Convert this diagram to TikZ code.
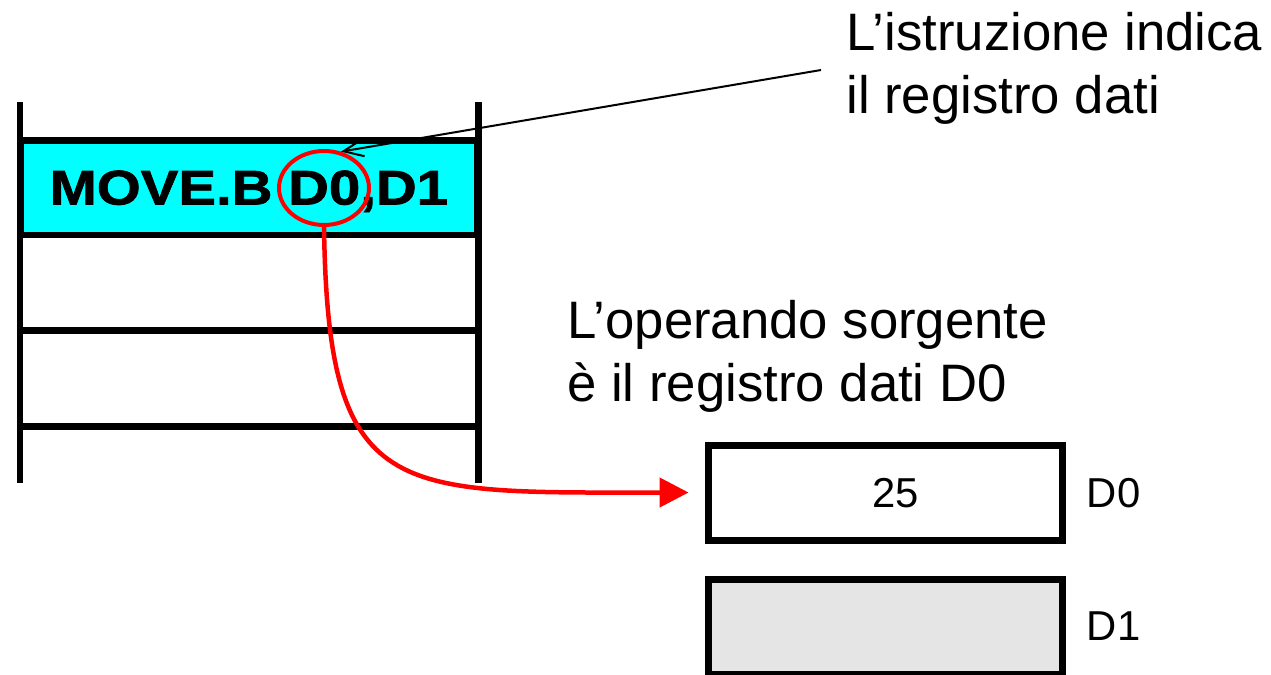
\documentclass[tikz,border=0pt]{standalone}
\usepackage{fontspec}
\setmainfont{Liberation Sans}
\newfontfamily\widefont[FakeStretch=1.16,FakeBold=1.5]{Liberation Sans}
\usetikzlibrary{arrows.meta,shapes.geometric}
\definecolor{reggray}{RGB}{229,229,229}
\definecolor{cellcyan}{RGB}{0,255,255}
\begin{document}
\begin{tikzpicture}[x=0.02cm,y=-0.02cm]
      \tikzset{cell/.style={draw, line width=0.14cm, minimum width=9.16cm, minimum height=1.9cm, inner sep=0pt},
               reg/.style={draw, line width=0.14cm, minimum width=7.1cm, minimum height=1.9cm, inner sep=0pt, text depth=0pt,
                           font=\fontsize{23.8}{26}\selectfont},
               regname/.style={font=\fontsize{23.8}{26}\selectfont, text depth=0pt, inner sep=0pt, xshift=0.4cm},
               note/.style={align=left, inner sep=0pt, font=\fontsize{30}{35.7}\selectfont},
               ring/.style={draw=red, ellipse, line width=0.08cm, minimum width=1.8cm, minimum height=1.48cm, inner sep=0pt}}
      \useasboundingbox (0,0) rectangle (1271,674);
%% Memory
      	\node[cell, fill=cellcyan, text depth=0pt, font=\widefont\bfseries\fontsize{27.7}{30}\selectfont] (instr) at (249,187.5) {MOVE.B D0,D1};
      	\draw[line width=0.14cm] (20,330) -- (478,330) (20,426) -- (478,426);
      	\draw[line width=0.14cm] (20,102) -- (20,483) (478,102) -- (478,483);
      	\node[ring] (ring) at (324,188) {};
%% Registers
      	\node[reg, label={[regname]right:D0}] (d0reg) at (885.5,492.5) {\hspace{0.4cm}25};
      	\node[reg, fill=reggray, label={[regname]right:D1}] (d1reg) at (885.5,626.5) {};
%% Notes
      	\node[note, anchor=base west] (istr) at (846,113) {L’istruzione indica\\il registro dati};
      	\node[note, anchor=base west] (oper) at (567,401) {L’operando sorgente\\è il registro dati D0};
      	\coordinate (istrfoot) at (821,70);
%Edges
		\path[-{Straight Barb[length=0.4cm,width=0.34cm]}, line width=0.04cm] (istrfoot) edge (ring.65);
		\draw[red, line width=0.09cm, -{Triangle[length=0.58cm,width=0.58cm]}, shorten >=0.32cm] (ring.south) .. controls +(4,275) and +(-312,0) .. (d0reg.west);
	\end{tikzpicture}
\end{document}
